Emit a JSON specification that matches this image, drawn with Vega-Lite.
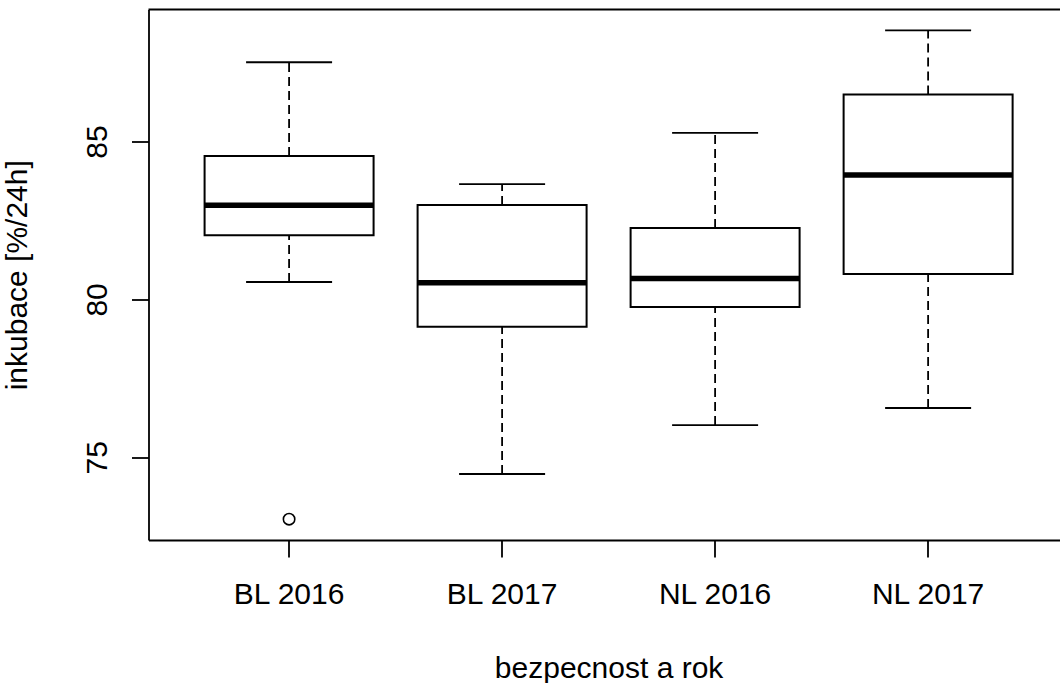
{
  "$schema": "https://vega.github.io/schema/vega-lite/v6.json",
  "autosize": "none",
  "width": 911.5,
  "height": 530.5,
  "padding": {"left": 148.5, "top": 9.5, "right": 0, "bottom": 143},
  "background": "white",
  "config": {
    "view": {"stroke": null},
    "font": "Liberation Sans",
    "axis": {
      "grid": false,
      "domainColor": "black",
      "domainWidth": 1.8,
      "tickColor": "black",
      "tickWidth": 1.8,
      "tickSize": 17,
      "labelColor": "black",
      "labelFont": "Liberation Sans",
      "labelFontSize": 30,
      "titleColor": "black",
      "titleFont": "Liberation Sans",
      "titleFontSize": 30,
      "titleFontWeight": "normal"
    }
  },
  "datasets": {
    "stats": [
      {"group": "BL 2016", "lower": 80.55, "q1": 82.03, "median": 82.98, "q3": 84.54, "upper": 87.51},
      {"group": "BL 2017", "lower": 74.47, "q1": 79.13, "median": 80.53, "q3": 82.99, "upper": 83.65},
      {"group": "NL 2016", "lower": 76.02, "q1": 79.76, "median": 80.66, "q3": 82.26, "upper": 85.27},
      {"group": "NL 2017", "lower": 76.56, "q1": 80.80, "median": 83.94, "q3": 86.49, "upper": 88.52}
    ],
    "outliers": [
      {"group": "BL 2016", "value": 73.04}
    ]
  },
  "data": {"name": "stats"},
  "encoding": {
    "x": {
      "field": "group",
      "type": "nominal",
      "sort": ["BL 2016", "BL 2017", "NL 2016", "NL 2017"],
      "scale": {"type": "band", "range": [0, 920.2], "paddingInner": 0, "paddingOuter": 0.16},
      "axis": {"title": "bezpecnost a rok", "labelAngle": 0, "labelPadding": 22, "titlePadding": 44}
    }
  },
  "layer": [
    {
      "mark": {"type": "rule", "color": "black", "strokeWidth": 1.8, "strokeDash": [9, 5]},
      "encoding": {
        "y": {
          "field": "lower",
          "type": "quantitative",
          "scale": {"domain": [72.38, 89.18], "nice": false, "zero": false},
          "axis": {
            "title": "inkubace [%/24h]",
            "values": [75, 80, 85],
            "labelAngle": 270,
            "labelAlign": "center",
            "labelBaseline": "alphabetic",
            "labelPadding": 25,
            "titlePadding": 50
          }
        },
        "y2": {"field": "q1"}
      }
    },
    {
      "mark": {"type": "rule", "color": "black", "strokeWidth": 1.8, "strokeDash": [9, 5]},
      "encoding": {
        "y": {"field": "q3", "type": "quantitative"},
        "y2": {"field": "upper"}
      }
    },
    {
      "mark": {"type": "bar", "width": 169, "fill": "white", "stroke": "black", "strokeWidth": 2},
      "encoding": {
        "y": {"field": "q1", "type": "quantitative"},
        "y2": {"field": "q3"}
      }
    },
    {
      "mark": {"type": "tick", "color": "black", "size": 169, "thickness": 5.5, "opacity": 1},
      "encoding": {"y": {"field": "median", "type": "quantitative"}}
    },
    {
      "mark": {"type": "tick", "color": "black", "size": 86, "thickness": 1.8, "opacity": 1},
      "encoding": {"y": {"field": "lower", "type": "quantitative"}}
    },
    {
      "mark": {"type": "tick", "color": "black", "size": 86, "thickness": 1.8, "opacity": 1},
      "encoding": {"y": {"field": "upper", "type": "quantitative"}}
    },
    {
      "data": {"name": "outliers"},
      "mark": {"type": "point", "shape": "circle", "size": 130, "filled": false, "color": "black", "strokeWidth": 1.6, "opacity": 1},
      "encoding": {
        "x": {"field": "group", "type": "nominal", "sort": ["BL 2016", "BL 2017", "NL 2016", "NL 2017"]},
        "y": {"field": "value", "type": "quantitative"}
      }
    },
    {
      "data": {"values": [{"top": 89.18}]},
      "mark": {"type": "rule", "color": "black", "strokeWidth": 1.8},
      "encoding": {
        "x": null,
        "y": {"field": "top", "type": "quantitative"}
      }
    }
  ]
}
